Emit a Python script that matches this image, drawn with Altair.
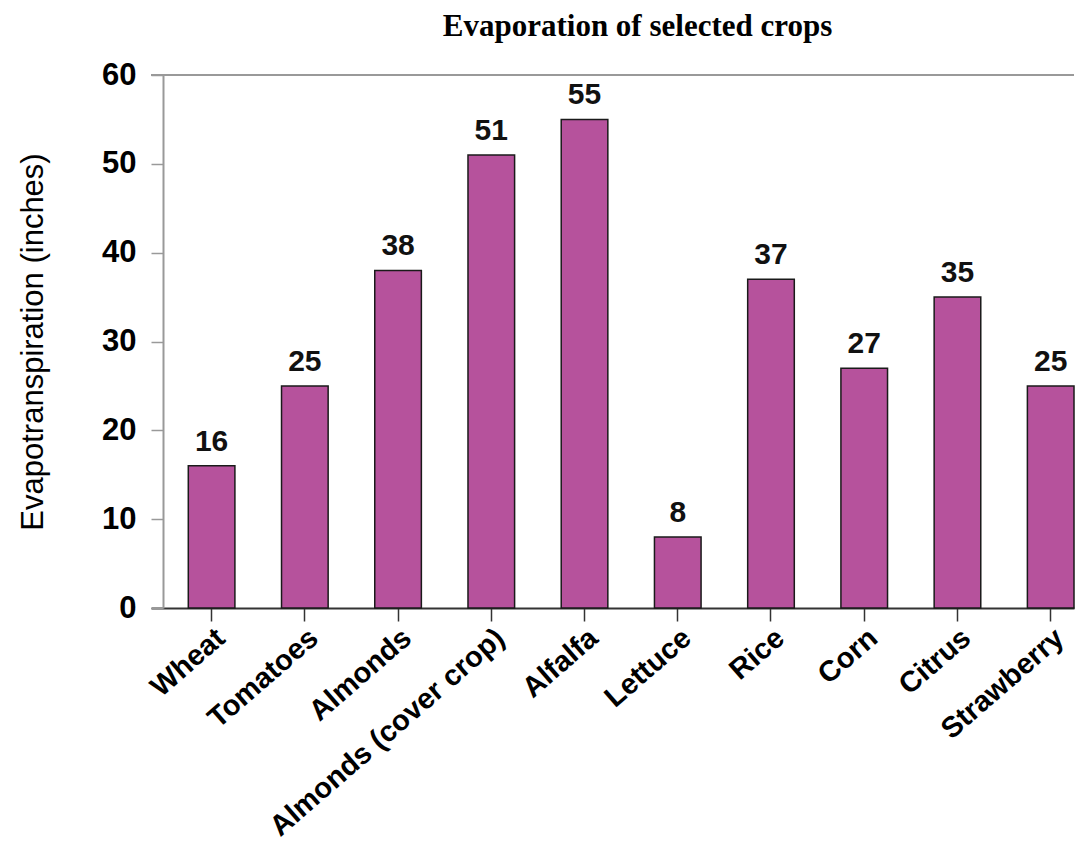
import altair as alt
import pandas as pd

crops = ["Wheat", "Tomatoes", "Almonds", "Almonds (cover crop)", "Alfalfa",
         "Lettuce", "Rice", "Corn", "Citrus", "Strawberry"]
values = [16, 25, 38, 51, 55, 8, 37, 27, 35, 25]
y_ticks = [0, 10, 20, 30, 40, 50, 60]

df = pd.DataFrame({"crop": crops, "et": values})
top_df = pd.DataFrame({"top": [60]})

TOTAL_W = 1067
H = 533
FONT = "Liberation Sans"

x_enc = alt.X(
    "crop:N", sort=crops, title=None,
    scale=alt.Scale(paddingInner=0.5, paddingOuter=0.2, align=1, round=False),
    axis=alt.Axis(labelAngle=-41, labelFont=FONT, labelFontWeight="bold",
                  labelFontSize=29, labelColor="#000", tickSize=13,
                  tickColor="#333", tickWidth=1.5, domainColor="#333",
                  domainWidth=2, labelPadding=2, labelLimit=600),
)
y_enc = alt.Y(
    "et:Q", title="Evapotranspiration (inches)",
    scale=alt.Scale(domain=[0, 60], nice=False),
    axis=alt.Axis(values=y_ticks, offset=-12, tickSize=12, tickColor="#999",
                  tickWidth=1.5, domainColor="#999", domainWidth=2, grid=False,
                  labelFont=FONT, labelFontSize=31, labelFontWeight="bold",
                  labelColor="#000", labelPadding=15,
                  titleFont=FONT, titleFontSize=31, titleFontWeight="normal",
                  titleColor="#000", titlePadding=52),
)

bars = alt.Chart(df).mark_bar(fill="#B6529C", stroke="#1a1a1a", strokeWidth=1.5).encode(
    x=x_enc, y=y_enc
)
labels = alt.Chart(df).mark_text(
    dy=-15, baseline="alphabetic", font=FONT, fontWeight="bold", fontSize=30, color="#111"
).encode(x=alt.X("crop:N", sort=crops), y="et:Q", text="et:Q")

top_rule = alt.Chart(top_df).mark_rule(color="#999", strokeWidth=2).encode(
    y="top:Q", x=alt.value(0), x2=alt.value("width")
)

chart = alt.layer(bars, labels, top_rule).properties(
    width=TOTAL_W, height=H,
    autosize=alt.AutoSizeParams(type="fit-x", contains="padding"),
    padding={"left": 9, "top": 3, "right": 0, "bottom": 0},
    title=alt.TitleParams("Evaporation of selected crops", font="Liberation Serif",
                          fontSize=31, fontWeight="bold", anchor="middle", dx=25,
                          color="#000", offset=16),
).configure_view(stroke=None)

chart.save("out.html", embed_options={"renderer": "svg", "actions": False})
